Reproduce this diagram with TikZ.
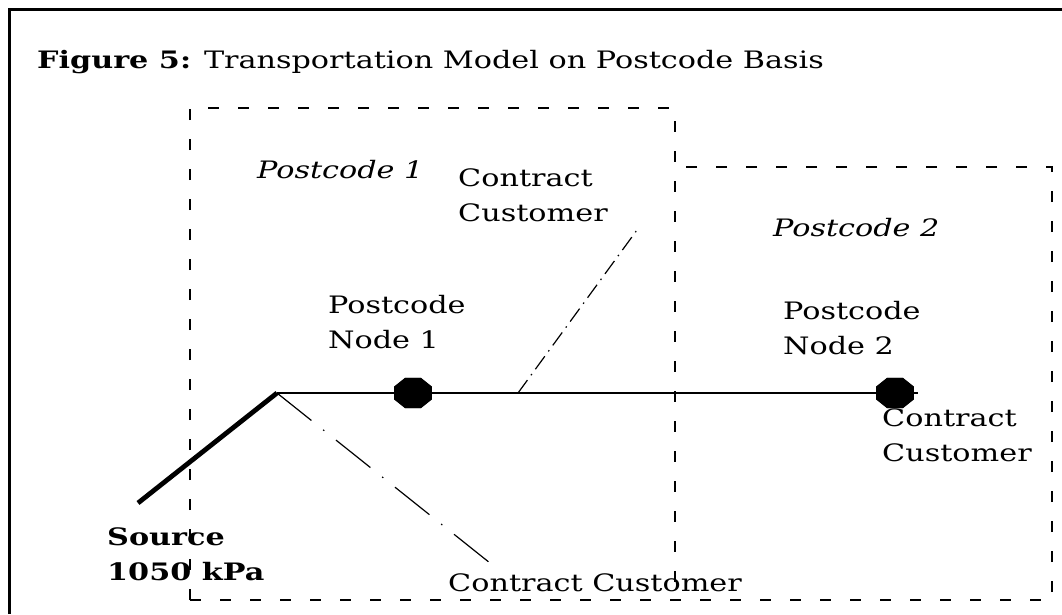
\documentclass[tikz,border=0pt]{standalone}
\usepackage{fontspec}
\setmainfont{DejaVu Serif}[FakeStretch=1.26]
\usetikzlibrary{shapes.geometric}

\begin{document}
\begin{tikzpicture}[x=1pt,y=-1pt]
\tikzstyle{zone}=[line width=1.7pt,dash pattern=on 11pt off 19pt]
\tikzstyle{txt}=[anchor=north west,align=left,inner sep=0pt,
font=\fontsize{24}{35}\selectfont]
\tikzstyle{hub}=[regular polygon,regular polygon sides=8,fill=black,
minimum size=41pt,yscale=0.8,transform shape,inner sep=0pt]
\tikzstyle{feed}=[line width=1.2pt,dash pattern=on 44pt off 15pt on 1.5pt off 15pt]
\useasboundingbox (0,0) rectangle (1062,614);
% frame
\draw[line width=3pt] (9,614) -- (9,9) -- (1062,9);
\node[anchor=base west,inner sep=0pt,font=\fontsize{24}{30}\selectfont] (title)
at (37,68) {\textbf{Figure 5:} Transportation Model on Postcode Basis};
% postcode areas
\draw[zone] (190,600) -- (190,108) -- (675,108) -- (675,600);
\draw[zone] (190,600) -- (1052,600) -- (1052,167) -- (675,167);
\node[txt,font=\fontsize{24}{35}\itshape] (pc1) at (257,160) {Postcode 1};
\node[txt,font=\fontsize{24}{35}\itshape] (pc2) at (773,218) {Postcode 2};
% pipe
\coordinate (src) at (138,503);
\coordinate (apex) at (277,393);
\coordinate (tap) at (518,393);
\coordinate (pipeend) at (918,393);
\node[hub] (n1) at (413,393) {};
\node[hub] (n2) at (895,393) {};
\draw[line width=4.8pt] (src) -- (apex);
\draw[line width=1.8pt] (apex) -- (n1) -- (n2) -- (pipeend);
\node[hub] at (n1) {};
\node[hub] at (n2) {};
% labels
\node[txt,font=\fontsize{24}{35}\bfseries] (source) at (107,527) {Source\\1050 kPa};
\node[txt] (node1) at (328,295) {Postcode\\Node 1};
\node[txt] (node2) at (783,301) {Postcode\\Node 2};
\node[txt] (cc1) at (458,168) {Contract\\Customer};
\node[txt] (cc2) at (882,408) {Contract\\Customer};
\node[txt] (cc3) at (448,573) {Contract Customer};
% service lines
\coordinate (c1) at (637,230);
\coordinate (c3) at (490,563);
\draw[feed,dash pattern=on 16pt off 6pt on 1.5pt off 6pt] (tap) -- (c1);
\draw[feed] (apex) -- (c3);
\end{tikzpicture}
\end{document}
